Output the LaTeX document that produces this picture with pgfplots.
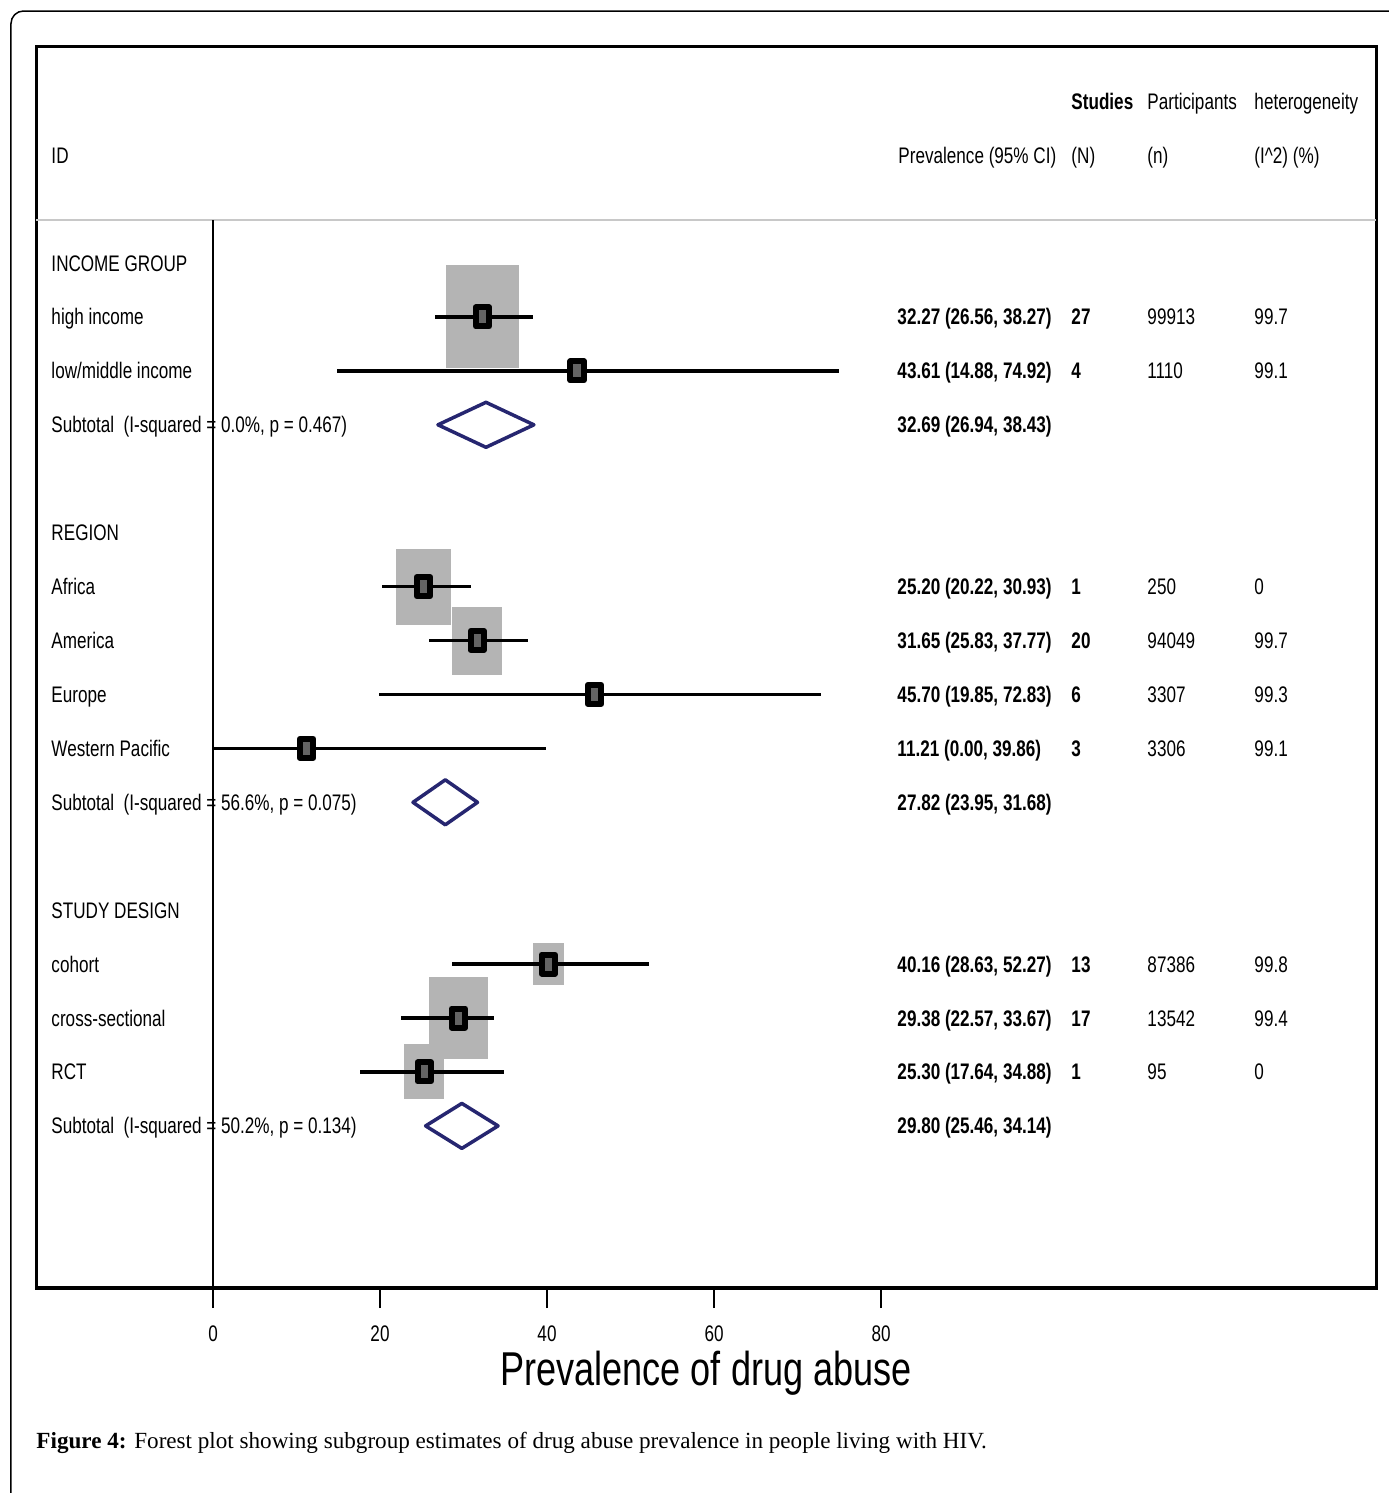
\documentclass[border=0pt]{standalone}
\usepackage{pgfplots}
\pgfplotsset{compat=1.18}
\usepackage{pgfplotstable}
\usepackage{fontspec}
\setmainfont[FakeStretch=0.76]{Liberation Sans}
\newfontfamily\capfont{Liberation Serif}
\definecolor{boxgray}{RGB}{180,180,180}
\definecolor{markgray}{RGB}{100,100,100}
\definecolor{dianavy}{RGB}{38,38,112}
\definecolor{sepgray}{RGB}{200,200,200}

\pgfdeclareplotmark{fbox}{%
  \pgfpathrectanglecorners{\pgfpoint{-\boxw pt}{-\boxh pt}}{\pgfpoint{\boxw pt}{\boxh pt}}%
  \pgfusepathqfill}

% row = line index below the header; bw, bh = half width / half height of the weight box (pt)
\pgfplotstableread{
row est lo hi bw bh
1 32.27 26.56 38.27 14.6 20.6
2 43.61 14.88 74.92 1.5 2.1
6 25.20 20.22 30.93 11.0 15.2
7 31.65 25.83 37.77 10.0 13.6
8 45.70 19.85 72.83 1.5 2.1
9 11.21 0.00 39.86 1.5 2.1
13 40.16 28.63 52.27 6.2 8.4
14 29.38 22.57 33.67 11.8 16.4
15 25.30 17.64 34.88 8.0 11.0
}\studies

\newcommand{\lbl}[3]{\node[anchor=base west] at (#1,{271+53.93*(#2)}) {#3};}

\begin{document}
\begin{tikzpicture}
\path[use as bounding box] (0,0) rectangle (555.6pt,-597.2pt);
\begin{axis}[
  at={(14.4pt,-515.2pt)}, anchor=south west,
  scale only axis, width=536pt, height=496.8pt,
  xmin=-21.198, xmax=139.281,
  ymin=-19.006, ymax=4.024,
  clip marker paths=true,
  axis line style={line width=1.2pt},
  xtick={0,20,40,60,80}, ytick=\empty,
  xtick pos=left, tick align=outside, major tick length=8pt,
  tick style={line width=0.9pt, black},
  xticklabel style={font=\fontsize{9}{10}\selectfont, yshift=-3.4pt},
  /pgf/number format/assume math mode=true,
  xlabel={Prevalence of drug abuse},
  xlabel style={at={(axis description cs:0.5,-0.0781)}, anchor=base, inner sep=0pt, font=\fontsize{19}{20}\selectfont},
]
% header separator and zero line
\addplot[sepgray, line width=0.8pt] coordinates {(-21.198,0.797) (139.281,0.797)};
\addplot[black, line width=1pt] coordinates {(0,0.797) (0,-19.006)};
% weight boxes
\addplot[scatter, only marks, mark=fbox, point meta=0,
  scatter/use mapped color={draw=none, fill=boxgray},
  visualization depends on={\thisrow{bw} \as \boxw},
  visualization depends on={\thisrow{bh} \as \boxh}]
  table[x=est, y expr=-\thisrow{row}] {\studies};
% CI lines and point estimates
\addplot[black, only marks, mark=square*, mark size=3.8pt,
  mark options={fill=markgray, draw=black, line width=2.4pt, xscale=0.71, line join=round},
  error bars/.cd, x dir=both, x explicit, error mark=none,
  error bar style={line width=1.5pt, black}]
  table[x=est, y expr=-\thisrow{row},
        x error plus expr=\thisrow{hi}-\thisrow{est},
        x error minus expr=\thisrow{est}-\thisrow{lo}] {\studies};
% subtotal diamonds
\addplot[dianavy, line width=1.4pt, fill=white, line join=round]
  coordinates {(26.94,-3) (32.69,-2.583) (38.43,-3) (32.69,-3.417)} -- cycle;
\addplot[dianavy, line width=1.4pt, fill=white, line join=round]
  coordinates {(23.95,-10) (27.82,-9.583) (31.68,-10) (27.82,-10.417)} -- cycle;
\addplot[dianavy, line width=1.4pt, fill=white, line join=round]
  coordinates {(25.46,-16) (29.80,-15.583) (34.14,-16) (29.80,-16.417)} -- cycle;
\draw[line width=1.8pt] (rel axis cs:0,0) -- (rel axis cs:1,0);
\end{axis}

\begin{scope}[x=0.4pt, y=-0.4pt, every node/.style={inner sep=0pt, font=\fontsize{9}{10}\selectfont}]
% outer frame
\draw[line width=0.6pt, rounded corners=5pt] (11,11) rectangle (1430,1540);
% header
\lbl{1071}{-3}{\textbf{Studies}}
\lbl{1147}{-3}{Participants}
\lbl{1254}{-3}{heterogeneity}
\lbl{51}{-2}{ID}
\lbl{898}{-2}{Prevalence (95\% CI)}
\lbl{1071}{-2}{(N)}
\lbl{1147}{-2}{(n)}
\lbl{1254}{-2}{(I\textasciicircum 2) (\%)}
% left labels
\lbl{51}{0}{INCOME GROUP}
\lbl{51}{1}{high income}
\lbl{51}{2}{low/middle income}
\lbl{51}{3}{Subtotal\ \ (I-squared = 0.0\%, p = 0.467)}
\lbl{51}{5}{REGION}
\lbl{51}{6}{Africa}
\lbl{51}{7}{America}
\lbl{51}{8}{Europe}
\lbl{51}{9}{Western Pacific}
\lbl{51}{10}{Subtotal\ \ (I-squared = 56.6\%, p = 0.075)}
\lbl{51}{12}{STUDY DESIGN}
\lbl{51}{13}{cohort}
\lbl{51}{14}{cross-sectional}
\lbl{51}{15}{RCT}
\lbl{51}{16}{Subtotal\ \ (I-squared = 50.2\%, p = 0.134)}
% prevalence column
\lbl{897}{1}{\textbf{32.27 (26.56, 38.27)}}
\lbl{897}{2}{\textbf{43.61 (14.88, 74.92)}}
\lbl{897}{3}{\textbf{32.69 (26.94, 38.43)}}
\lbl{897}{6}{\textbf{25.20 (20.22, 30.93)}}
\lbl{897}{7}{\textbf{31.65 (25.83, 37.77)}}
\lbl{897}{8}{\textbf{45.70 (19.85, 72.83)}}
\lbl{897}{9}{\textbf{11.21 (0.00, 39.86)}}
\lbl{897}{10}{\textbf{27.82 (23.95, 31.68)}}
\lbl{897}{13}{\textbf{40.16 (28.63, 52.27)}}
\lbl{897}{14}{\textbf{29.38 (22.57, 33.67)}}
\lbl{897}{15}{\textbf{25.30 (17.64, 34.88)}}
\lbl{897}{16}{\textbf{29.80 (25.46, 34.14)}}
% studies column
\lbl{1071}{1}{\textbf{27}}
\lbl{1071}{2}{\textbf{4}}
\lbl{1071}{6}{\textbf{1}}
\lbl{1071}{7}{\textbf{20}}
\lbl{1071}{8}{\textbf{6}}
\lbl{1071}{9}{\textbf{3}}
\lbl{1071}{13}{\textbf{13}}
\lbl{1071}{14}{\textbf{17}}
\lbl{1071}{15}{\textbf{1}}
% participants column
\lbl{1147}{1}{99913}
\lbl{1147}{2}{1110}
\lbl{1147}{6}{250}
\lbl{1147}{7}{94049}
\lbl{1147}{8}{3307}
\lbl{1147}{9}{3306}
\lbl{1147}{13}{87386}
\lbl{1147}{14}{13542}
\lbl{1147}{15}{95}
% heterogeneity column
\lbl{1254}{1}{99.7}
\lbl{1254}{2}{99.1}
\lbl{1254}{6}{0}
\lbl{1254}{7}{99.7}
\lbl{1254}{8}{99.3}
\lbl{1254}{9}{99.1}
\lbl{1254}{13}{99.8}
\lbl{1254}{14}{99.4}
\lbl{1254}{15}{0}
% caption
\node[anchor=base west, font=\capfont\fontsize{9.25}{10}\selectfont] at (36,1449)
  {\textbf{Figure 4:} Forest plot showing subgroup estimates of drug abuse prevalence in people living with HIV.};
\end{scope}
\end{tikzpicture}
\end{document}
